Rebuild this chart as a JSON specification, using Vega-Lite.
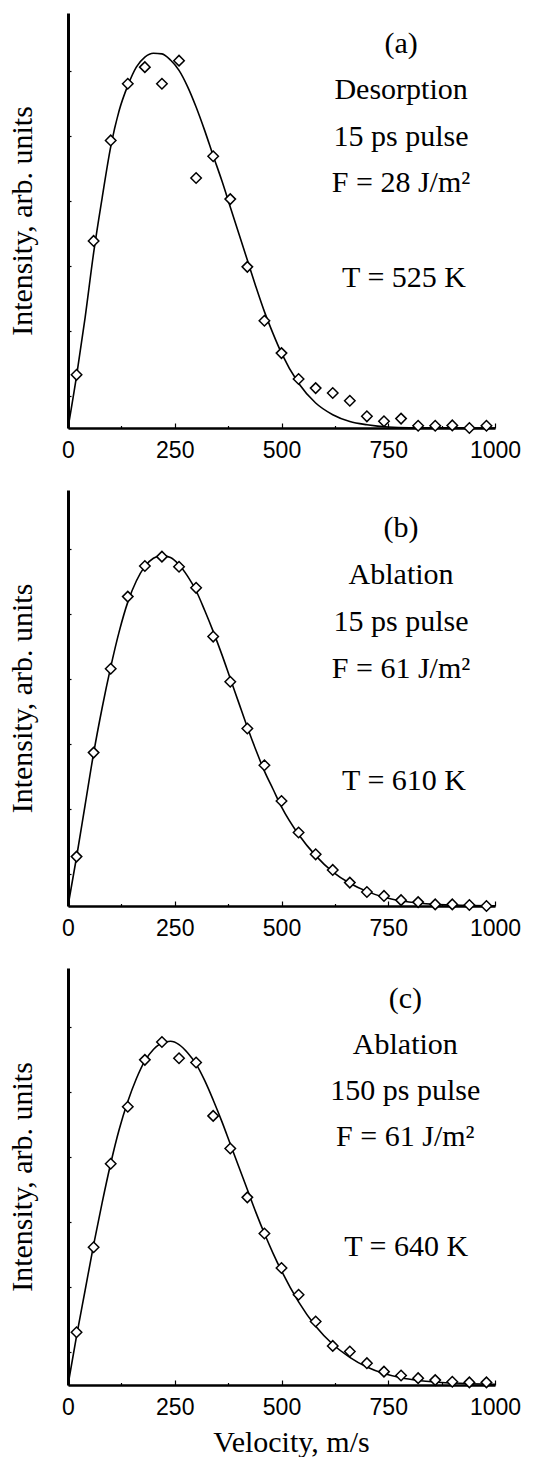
{
  "$schema": "https://vega.github.io/schema/vega-lite/v6.json",
  "background": "white",
  "padding": {"left": 7, "top": 13, "right": 0, "bottom": 0},
  "spacing": 28,
  "config": {
    "view": {"stroke": null},
    "axis": {
      "grid": false,
      "domainColor": "black",
      "tickColor": "black",
      "labelColor": "black",
      "titleColor": "black",
      "titleFont": "Liberation Serif",
      "titleFontSize": 30,
      "titleFontWeight": "normal",
      "labelFont": "Liberation Sans",
      "labelFontSize": 23,
      "labelFlush": false
    }
  },
  "datasets": {
    "ptsA": [
      {"v": 20, "I": 1.64}, {"v": 60, "I": 5.77}, {"v": 100, "I": 8.87}, {"v": 140, "I": 10.62},
      {"v": 180, "I": 11.13}, {"v": 220, "I": 10.62}, {"v": 260, "I": 11.33}, {"v": 300, "I": 7.71},
      {"v": 340, "I": 8.38}, {"v": 380, "I": 7.06}, {"v": 420, "I": 4.97}, {"v": 460, "I": 3.31},
      {"v": 500, "I": 2.31}, {"v": 540, "I": 1.51}, {"v": 580, "I": 1.23}, {"v": 620, "I": 1.08},
      {"v": 660, "I": 0.84}, {"v": 700, "I": 0.36}, {"v": 740, "I": 0.21}, {"v": 780, "I": 0.29},
      {"v": 820, "I": 0.07}, {"v": 860, "I": 0.07}, {"v": 900, "I": 0.08}, {"v": 940, "I": 0.0},
      {"v": 980, "I": 0.07}
    ],
    "fitA": [
      {"v": 0, "I": 0}, {"v": 20, "I": 1.6}, {"v": 40, "I": 3.4}, {"v": 60, "I": 5.4},
      {"v": 80, "I": 7.1}, {"v": 100, "I": 8.67}, {"v": 120, "I": 9.8}, {"v": 140, "I": 10.56},
      {"v": 160, "I": 11.13}, {"v": 180, "I": 11.44}, {"v": 200, "I": 11.56}, {"v": 220, "I": 11.54},
      {"v": 240, "I": 11.35}, {"v": 260, "I": 11.03}, {"v": 280, "I": 10.53}, {"v": 300, "I": 9.9},
      {"v": 320, "I": 9.18}, {"v": 340, "I": 8.4}, {"v": 360, "I": 7.64}, {"v": 380, "I": 6.82},
      {"v": 400, "I": 6.0}, {"v": 420, "I": 5.18}, {"v": 440, "I": 4.36}, {"v": 460, "I": 3.59},
      {"v": 480, "I": 2.92}, {"v": 500, "I": 2.31}, {"v": 540, "I": 1.38}, {"v": 580, "I": 0.77},
      {"v": 620, "I": 0.41}, {"v": 660, "I": 0.2}, {"v": 700, "I": 0.1}, {"v": 750, "I": 0.03},
      {"v": 800, "I": 0.01}, {"v": 1000, "I": 0}
    ],
    "ptsB": [
      {"v": 20, "I": 1.52}, {"v": 60, "I": 4.72}, {"v": 100, "I": 7.3}, {"v": 140, "I": 9.52},
      {"v": 180, "I": 10.46}, {"v": 220, "I": 10.75}, {"v": 260, "I": 10.44}, {"v": 300, "I": 9.79},
      {"v": 340, "I": 8.29}, {"v": 380, "I": 6.9}, {"v": 420, "I": 5.46}, {"v": 460, "I": 4.33},
      {"v": 500, "I": 3.23}, {"v": 540, "I": 2.26}, {"v": 580, "I": 1.59}, {"v": 620, "I": 1.11},
      {"v": 660, "I": 0.72}, {"v": 700, "I": 0.43}, {"v": 740, "I": 0.31}, {"v": 780, "I": 0.18},
      {"v": 820, "I": 0.12}, {"v": 860, "I": 0.05}, {"v": 900, "I": 0.05}, {"v": 940, "I": 0.03},
      {"v": 980, "I": 0.0}
    ],
    "fitB": [
      {"v": 0, "I": 0}, {"v": 20, "I": 1.5}, {"v": 40, "I": 3.1}, {"v": 60, "I": 4.7},
      {"v": 80, "I": 6.1}, {"v": 100, "I": 7.35}, {"v": 120, "I": 8.45}, {"v": 140, "I": 9.35},
      {"v": 160, "I": 10.0}, {"v": 180, "I": 10.45}, {"v": 200, "I": 10.7}, {"v": 220, "I": 10.78},
      {"v": 240, "I": 10.72}, {"v": 260, "I": 10.5}, {"v": 280, "I": 10.15}, {"v": 300, "I": 9.7},
      {"v": 320, "I": 9.1}, {"v": 340, "I": 8.45}, {"v": 360, "I": 7.75}, {"v": 380, "I": 7.0},
      {"v": 400, "I": 6.25}, {"v": 420, "I": 5.5}, {"v": 440, "I": 4.8}, {"v": 460, "I": 4.15},
      {"v": 480, "I": 3.6}, {"v": 500, "I": 3.05}, {"v": 540, "I": 2.2}, {"v": 580, "I": 1.55},
      {"v": 620, "I": 1.05}, {"v": 660, "I": 0.7}, {"v": 700, "I": 0.45}, {"v": 740, "I": 0.27},
      {"v": 780, "I": 0.16}, {"v": 820, "I": 0.09}, {"v": 860, "I": 0.05}, {"v": 900, "I": 0.03},
      {"v": 1000, "I": 0.01}
    ],
    "ptsC": [
      {"v": 20, "I": 1.62}, {"v": 60, "I": 4.23}, {"v": 100, "I": 6.79}, {"v": 140, "I": 8.54},
      {"v": 180, "I": 9.98}, {"v": 220, "I": 10.53}, {"v": 260, "I": 10.03}, {"v": 300, "I": 9.9},
      {"v": 340, "I": 8.26}, {"v": 380, "I": 7.26}, {"v": 420, "I": 5.76}, {"v": 460, "I": 4.65},
      {"v": 500, "I": 3.59}, {"v": 540, "I": 2.77}, {"v": 580, "I": 1.95}, {"v": 620, "I": 1.2},
      {"v": 660, "I": 1.03}, {"v": 700, "I": 0.67}, {"v": 740, "I": 0.41}, {"v": 780, "I": 0.29},
      {"v": 820, "I": 0.21}, {"v": 860, "I": 0.15}, {"v": 900, "I": 0.1}, {"v": 940, "I": 0.08},
      {"v": 980, "I": 0.08}
    ],
    "fitC": [
      {"v": 0, "I": 0}, {"v": 20, "I": 1.5}, {"v": 40, "I": 2.9}, {"v": 60, "I": 4.3},
      {"v": 80, "I": 5.6}, {"v": 100, "I": 6.8}, {"v": 120, "I": 7.85}, {"v": 140, "I": 8.7},
      {"v": 160, "I": 9.4}, {"v": 180, "I": 9.95}, {"v": 200, "I": 10.3}, {"v": 220, "I": 10.5},
      {"v": 240, "I": 10.55}, {"v": 260, "I": 10.45}, {"v": 280, "I": 10.2}, {"v": 300, "I": 9.85},
      {"v": 320, "I": 9.35}, {"v": 340, "I": 8.75}, {"v": 360, "I": 8.1}, {"v": 380, "I": 7.4},
      {"v": 400, "I": 6.7}, {"v": 420, "I": 6.0}, {"v": 440, "I": 5.3}, {"v": 460, "I": 4.65},
      {"v": 480, "I": 4.05}, {"v": 500, "I": 3.5}, {"v": 540, "I": 2.55}, {"v": 580, "I": 1.8},
      {"v": 620, "I": 1.25}, {"v": 660, "I": 0.85}, {"v": 700, "I": 0.55}, {"v": 740, "I": 0.35},
      {"v": 780, "I": 0.22}, {"v": 820, "I": 0.14}, {"v": 860, "I": 0.09}, {"v": 900, "I": 0.06},
      {"v": 1000, "I": 0.02}
    ]
  },
  "vconcat": [
    {
      "width": 427, "height": 415,
      "layer": [
        {
          "data": {"name": "fitA"},
          "mark": {"type": "line", "color": "black", "strokeWidth": 1.6, "interpolate": "monotone"},
          "encoding": {
            "x": {"field": "v", "type": "quantitative", "scale": {"domain": [0, 1000], "nice": false},
              "axis": {"title": null, "values": [0, 125, 250, 375, 500, 625, 750, 875, 1000], "format": "d",
                "labelExpr": "datum.value % 250 === 0 ? datum.label : ''",
                "tickSize": {"condition": {"test": "datum.value % 250 === 0", "value": -5}, "value": -2.5},
                "tickWidth": 1.2, "domainWidth": 2.5, "labelPadding": 16}},
            "y": {"field": "I", "type": "quantitative", "scale": {"domain": [0, 12.8], "nice": false, "zero": true},
              "axis": {"title": "Intensity, arb. units", "labels": false, "values": [1,2,3,4,5,6,7,8,9,10,11,12],
                "tickSize": {"condition": {"test": "datum.value % 2 === 0", "value": -7}, "value": -3},
                "tickWidth": 1.2, "domainWidth": 3, "titlePadding": 30}}
          }
        },
        {
          "data": {"name": "ptsA"},
          "mark": {"type": "point", "shape": "diamond", "filled": true, "fill": "white", "stroke": "black", "strokeWidth": 1.5, "size": 110, "opacity": 1},
          "encoding": {"x": {"field": "v", "type": "quantitative"}, "y": {"field": "I", "type": "quantitative"}}
        },
        {
          "data": {"values": [{}]},
          "mark": {"type": "text", "font": "Liberation Serif", "fontSize": 30, "lineHeight": 46.5, "align": "center", "baseline": "middle", "color": "black"},
          "encoding": {"x": {"datum": 780, "type": "quantitative"}, "y": {"datum": 11.85, "type": "quantitative"},
            "text": {"value": ["(a)", "Desorption", "15 ps pulse", "F = 28 J/m²"]}}
        },
        {
          "data": {"values": [{}]},
          "mark": {"type": "text", "font": "Liberation Serif", "fontSize": 30, "align": "center", "baseline": "middle", "color": "black"},
          "encoding": {"x": {"datum": 787, "type": "quantitative"}, "y": {"datum": 4.62, "type": "quantitative"},
            "text": {"value": "T = 525 K"}}
        }
      ]
    },
    {
      "width": 427, "height": 416,
      "layer": [
        {
          "data": {"name": "fitB"},
          "mark": {"type": "line", "color": "black", "strokeWidth": 1.6, "interpolate": "monotone"},
          "encoding": {
            "x": {"field": "v", "type": "quantitative", "scale": {"domain": [0, 1000], "nice": false},
              "axis": {"title": null, "values": [0, 125, 250, 375, 500, 625, 750, 875, 1000], "format": "d",
                "labelExpr": "datum.value % 250 === 0 ? datum.label : ''",
                "tickSize": {"condition": {"test": "datum.value % 250 === 0", "value": -5}, "value": -2.5},
                "tickWidth": 1.2, "domainWidth": 2.5, "labelPadding": 16}},
            "y": {"field": "I", "type": "quantitative", "scale": {"domain": [0, 12.8], "nice": false, "zero": true},
              "axis": {"title": "Intensity, arb. units", "labels": false, "values": [1,2,3,4,5,6,7,8,9,10,11,12],
                "tickSize": {"condition": {"test": "datum.value % 2 === 0", "value": -7}, "value": -3},
                "tickWidth": 1.2, "domainWidth": 3, "titlePadding": 30}}
          }
        },
        {
          "data": {"name": "ptsB"},
          "mark": {"type": "point", "shape": "diamond", "filled": true, "fill": "white", "stroke": "black", "strokeWidth": 1.5, "size": 110, "opacity": 1},
          "encoding": {"x": {"field": "v", "type": "quantitative"}, "y": {"field": "I", "type": "quantitative"}}
        },
        {
          "data": {"values": [{}]},
          "mark": {"type": "text", "font": "Liberation Serif", "fontSize": 30, "lineHeight": 47, "align": "center", "baseline": "middle", "color": "black"},
          "encoding": {"x": {"datum": 780, "type": "quantitative"}, "y": {"datum": 11.64, "type": "quantitative"},
            "text": {"value": ["(b)", "Ablation", "15 ps pulse", "F = 61 J/m²"]}}
        },
        {
          "data": {"values": [{}]},
          "mark": {"type": "text", "font": "Liberation Serif", "fontSize": 30, "align": "center", "baseline": "middle", "color": "black"},
          "encoding": {"x": {"datum": 787, "type": "quantitative"}, "y": {"datum": 3.85, "type": "quantitative"},
            "text": {"value": "T = 610 K"}}
        }
      ]
    },
    {
      "width": 427, "height": 417,
      "layer": [
        {
          "data": {"name": "fitC"},
          "mark": {"type": "line", "color": "black", "strokeWidth": 1.6, "interpolate": "monotone"},
          "encoding": {
            "x": {"field": "v", "type": "quantitative", "scale": {"domain": [0, 1000], "nice": false},
              "axis": {"title": "Velocity, m/s", "values": [0, 125, 250, 375, 500, 625, 750, 875, 1000], "format": "d",
                "labelExpr": "datum.value % 250 === 0 ? datum.label : ''",
                "tickSize": {"condition": {"test": "datum.value % 250 === 0", "value": -5}, "value": -2.5},
                "tickWidth": 1.2, "domainWidth": 2.5, "labelPadding": 16, "titlePadding": 8, "titleX": 223}},
            "y": {"field": "I", "type": "quantitative", "scale": {"domain": [0, 12.8], "nice": false, "zero": true},
              "axis": {"title": "Intensity, arb. units", "labels": false, "values": [1,2,3,4,5,6,7,8,9,10,11,12],
                "tickSize": {"condition": {"test": "datum.value % 2 === 0", "value": -7}, "value": -3},
                "tickWidth": 1.2, "domainWidth": 3, "titlePadding": 30}}
          }
        },
        {
          "data": {"name": "ptsC"},
          "mark": {"type": "point", "shape": "diamond", "filled": true, "fill": "white", "stroke": "black", "strokeWidth": 1.5, "size": 110, "opacity": 1},
          "encoding": {"x": {"field": "v", "type": "quantitative"}, "y": {"field": "I", "type": "quantitative"}}
        },
        {
          "data": {"values": [{}]},
          "mark": {"type": "text", "font": "Liberation Serif", "fontSize": 30, "lineHeight": 46, "align": "center", "baseline": "middle", "color": "black"},
          "encoding": {"x": {"datum": 790, "type": "quantitative"}, "y": {"datum": 11.85, "type": "quantitative"},
            "text": {"value": ["(c)", "Ablation", "150 ps pulse", "F = 61 J/m²"]}}
        },
        {
          "data": {"values": [{}]},
          "mark": {"type": "text", "font": "Liberation Serif", "fontSize": 30, "align": "center", "baseline": "middle", "color": "black"},
          "encoding": {"x": {"datum": 792, "type": "quantitative"}, "y": {"datum": 4.25, "type": "quantitative"},
            "text": {"value": "T = 640 K"}}
        }
      ]
    }
  ]
}
